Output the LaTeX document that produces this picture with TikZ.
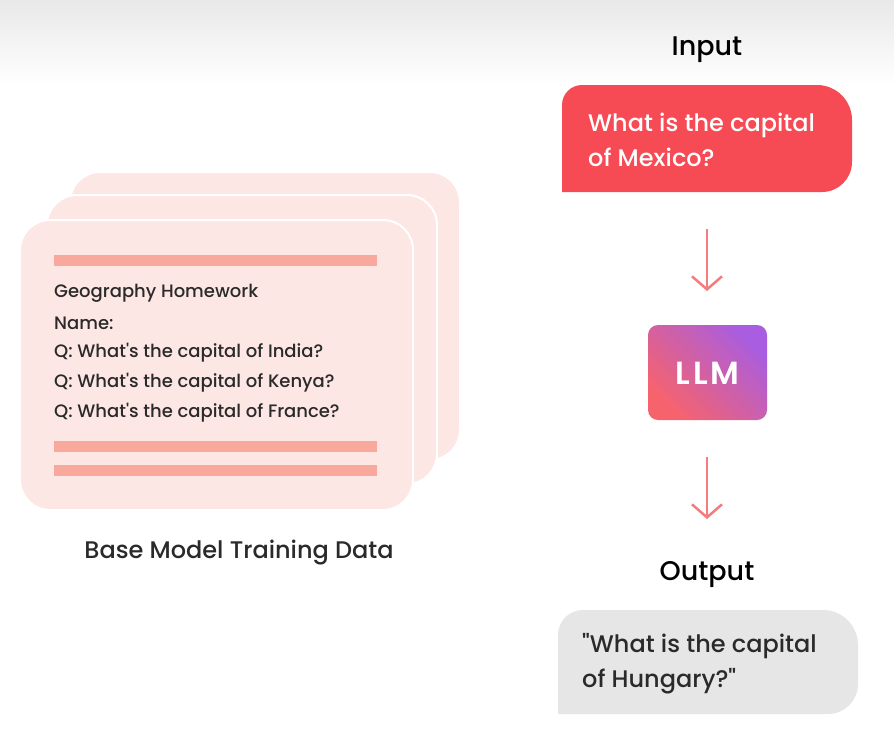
\documentclass[tikz,border=0pt]{standalone}
\usepackage{fontspec}
\IfFontExistsTF{Poppins Medium}{\setmainfont{Poppins Medium}[BoldFont={Poppins SemiBold},Ligatures=TeXOff]}{\setmainfont{Poppins}[FakeBold=1.2,Ligatures=TeXOff]}
\usetikzlibrary{arrows.meta,backgrounds}
\definecolor{inred}{HTML}{F64A54}
\definecolor{outgray}{HTML}{E6E6E6}
\definecolor{cardpink}{HTML}{FDE7E4}
\definecolor{barpink}{HTML}{F9A99C}
\definecolor{arrowpink}{HTML}{F47C7C}
\definecolor{llmpurple}{HTML}{A95DE0}
\definecolor{llmred}{HTML}{F7636C}
\definecolor{darktext}{HTML}{2A2A2A}
\tikzset{
  card/.style={fill=cardpink, draw=white, line width=2pt, rounded corners=30pt},
  bar/.style={fill=barpink},
  hwtext/.style={anchor=west, inner sep=0pt, font=\fontsize{18}{21}\selectfont, text=darktext},
  label/.style={font=\fontsize{27}{30}\selectfont, text=black},
  bubbletext/.style={font=\fontsize{24}{35}\selectfont, align=left, anchor=west, inner sep=0pt},
  flowarrow/.style={draw=arrowpink, line width=2.5pt, -{Straight Barb[length=13pt,width=30pt,line width=2.5pt]}},
}
\begin{document}
\begin{tikzpicture}[x=1pt,y=1pt]
\useasboundingbox (0,0) rectangle (894,-750);
\fill[white] (0,0) rectangle (894,-750);
\shade[top color=outgray!90, bottom color=white] (0,0) rectangle (894,-85);

% cards
\path[card] (70,-172) rectangle (460,-460);
\path[card] (47,-195) rectangle (437,-484);
\path[card] (20,-220) rectangle (413,-510);
\fill[bar] (54,-255) rectangle (377,-266);
\fill[bar] (54,-441) rectangle (377,-452);
\fill[bar] (54,-465) rectangle (377,-476);
\node[hwtext] (l1) at (54,-293) {Geography Homework};
\node[hwtext] (l2) at (54,-323) {Name:};
\node[hwtext] (l3) at (54,-353) {Q: What's the capital of India?};
\node[hwtext] (l4) at (54,-383) {Q: What's the capital of Kenya?};
\node[hwtext] (l5) at (54,-413) {Q: What's the capital of France?};
\node[font=\fontsize{24}{28}\selectfont, text=darktext] (cap) at (239,-553) {Base Model Training Data};

% input
\node[label] (inlbl) at (707,-50) {Input};
\fill[inred] (562,-192) -- (562,-105) arc[start angle=180,end angle=90,radius=20] -- (817,-85)
  arc[start angle=90,end angle=0,radius=35] -- (852,-162) arc[start angle=0,end angle=-90,radius=30] -- cycle;
\node[bubbletext, text=white] (intext) at (588,-140) {What is the capital\\of Mexico?};

% LLM
\shade[rounded corners=10pt, top color=llmpurple, bottom color=llmred, shading angle=-45]
  (648,-325) rectangle (767,-420);
\node[font=\fontsize{32}{34}\selectfont\bfseries, text=white] (llm) at (707.5,-373) {L\kern2.5ptL\kern2.5ptM};

% output
\node[label] (outlbl) at (707,-575) {Output};
\fill[outgray] (558,-714) -- (558,-635) arc[start angle=180,end angle=90,radius=25] -- (823,-610)
  arc[start angle=90,end angle=0,radius=35] -- (858,-684) arc[start angle=0,end angle=-90,radius=30] -- cycle;
\node[bubbletext, text=darktext] (outtext) at (582,-664) {"What is the capital\\of Hungary?"};

% arrows
\coordinate (a1s) at (707,-229);
\coordinate (a1e) at (707,-291);
\coordinate (a2s) at (707,-457);
\coordinate (a2e) at (707,-519);
\draw[flowarrow] (a1s) -- (a1e);
\draw[flowarrow] (a2s) -- (a2e);
\end{tikzpicture}
\end{document}
